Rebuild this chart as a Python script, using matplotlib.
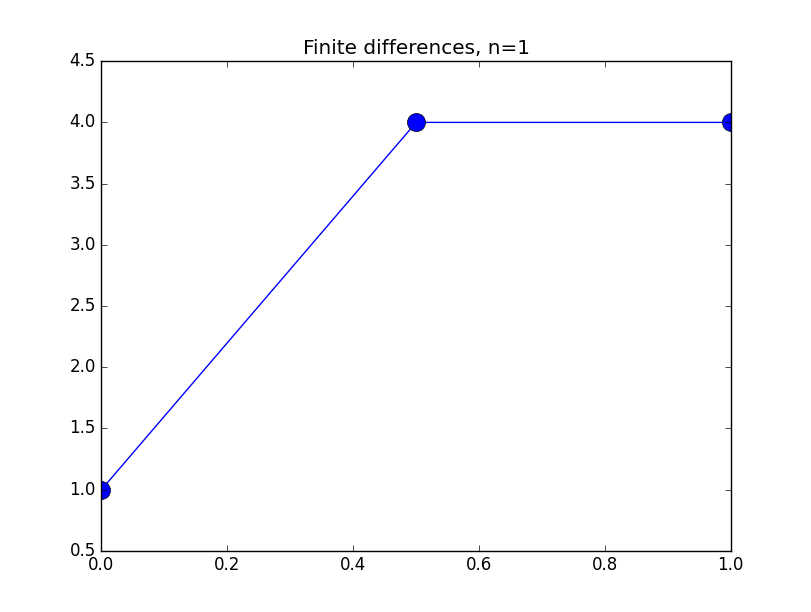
import matplotlib
matplotlib.use("Agg")
import matplotlib.pyplot as plt

plt.style.use("classic")

# finite differences, n=1
x = [0.0, 0.5, 1.0]
y = [1.0, 4.0, 4.0]
n = 1

fig = plt.figure(figsize=(8.12, 6.12), dpi=100)
ax = fig.add_subplot(111)
ax.plot(x, y, "bo-", markersize=13)
ax.set_xlim(0.0, 1.0)
ax.set_ylim(0.5, 4.5)
ax.set_title(f"Finite differences, n={n}")

fig.savefig("out.png", dpi=100)
